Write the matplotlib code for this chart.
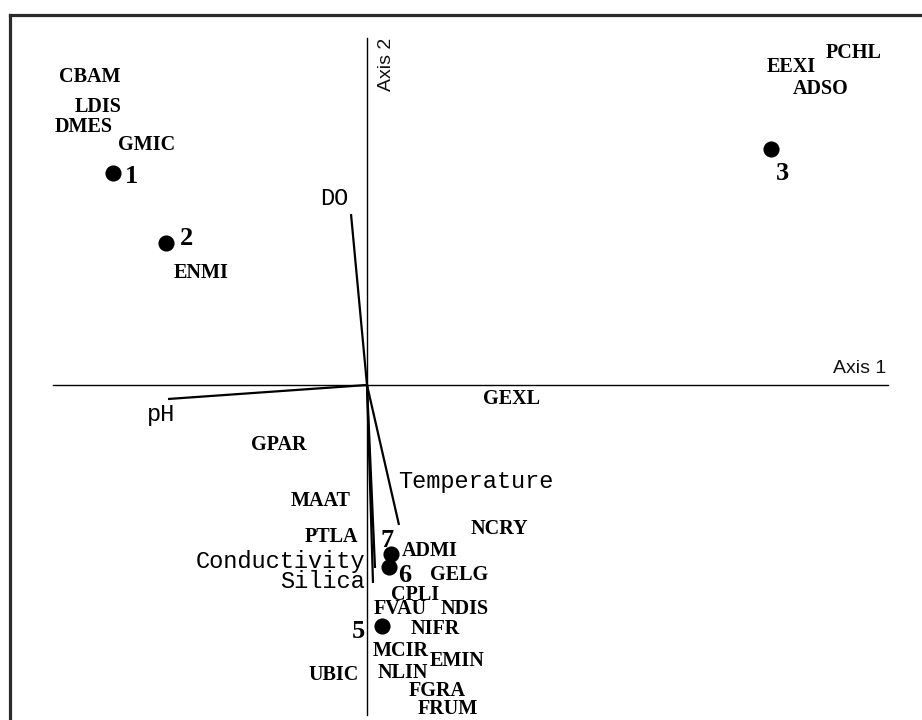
import matplotlib
matplotlib.use("Agg")
import matplotlib.pyplot as plt
from matplotlib.lines import Line2D

# ---------------- data (ordination scores) ----------------
site_labels = ["1", "2", "3", "5", "6", "7"]
site_x = [-2.54, -2.01, 4.04, 0.15, 0.22, 0.24]
site_y = [2.12, 1.42, 2.36, -2.41, -1.82, -1.69]

species_labels = ["CBAM", "LDIS", "DMES", "GMIC", "ENMI", "PCHL", "EEXI", "ADSO",
                  "GEXL", "GPAR", "MAAT", "PTLA", "NCRY", "ADMI", "GELG", "CPLI",
                  "FVAU", "NDIS", "NIFR", "MCIR", "EMIN", "NLIN", "UBIC", "FGRA", "FRUM"]
species_x = [-2.77, -2.69, -2.83, -2.20, -1.66, 4.87, 4.24, 4.54,
             1.44, -0.88, -0.46, -0.36, 1.32, 0.63, 0.92, 0.48,
             0.33, 0.98, 0.68, 0.34, 0.90, 0.36, -0.33, 0.70, 0.81]
species_y = [3.10, 2.80, 2.60, 2.42, 1.15, 3.35, 3.20, 2.99,
             -0.11, -0.57, -1.14, -1.50, -1.41, -1.64, -1.87, -2.07,
             -2.22, -2.21, -2.41, -2.63, -2.74, -2.86, -2.88, -3.04, -3.21]

env_labels = ["DO", "pH", "Temperature", "Conductivity", "Silica"]
env_x = [-0.16, -1.99, 0.32, 0.08, 0.06]
env_y = [1.71, -0.14, -1.40, -1.83, -1.98]

# ---------------- styling / label offsets (pixels, y down) ----------------
site_offsets = {"1": (19, 10), "2": (20, 2), "3": (11, 31),
                "5": (-24, 12), "6": (16, 15), "7": (-4, -7)}
env_label_style = {  # (dx, dy, ha)
    "DO": (-3, -9, "right"),
    "pH": (-7, 22, "center"),
    "Temperature": (-1, -37, "left"),
    "Conductivity": (-10, 0, "right"),
    "Silica": (-8, 5, "right"),
}

SERIF = ["Liberation Serif", "DejaVu Serif"]
MONO = ["Liberation Mono", "DejaVu Sans Mono"]
SANS = ["Liberation Sans", "DejaVu Sans"]

fig = plt.figure(figsize=(9.22, 7.20), dpi=100)
ax = fig.add_axes([0, 0, 1, 1])
ax.set_xlim(-3.67, 5.55)
ax.set_ylim(-3.35, 3.85)
ax.axis("off")

# axes of the ordination
ax.plot([-3.14, 5.21], [0, 0], color="black", lw=1.0)
ax.plot([0, 0], [-3.30, 3.47], color="black", lw=1.0)
ax.text(5.19, 0.12, "Axis 1", ha="right", va="baseline", fontsize=14,
        family=SANS, color="#111111")
ax.text(0.28, 3.47, "Axis 2", ha="right", va="top", rotation=90, fontsize=14,
        family=SANS, color="#111111")

# environmental vectors
for lab, ex, ey in zip(env_labels, env_x, env_y):
    ax.plot([0, ex], [0, ey], color="black", lw=1.6, solid_capstyle="butt")
    dx, dy, ha = env_label_style[lab]
    ax.annotate(lab, (ex, ey), xytext=(dx, -dy), textcoords="offset pixels",
                ha=ha, va="baseline", fontsize=17, family=MONO, color="black")

# species
for lab, sx, sy in zip(species_labels, species_x, species_y):
    ax.text(sx, sy, lab, ha="center", va="center_baseline", fontsize=14.5,
            family=SERIF, fontweight="bold", color="black")

# sites
ax.scatter(site_x, site_y, s=135, color="black", zorder=5, linewidths=0)
for lab, sx, sy in zip(site_labels, site_x, site_y):
    dx, dy = site_offsets[lab]
    ax.annotate(lab, (sx, sy), xytext=(dx, -dy), textcoords="offset pixels",
                ha="center", va="baseline", fontsize=19, family=SERIF,
                fontweight="bold", color="black")

# outer frame (only left and top edges visible)
fig.add_artist(Line2D([9.5 / 922, 9.5 / 922], [0, 1 - 14.5 / 720],
                      transform=fig.transFigure, color="#2b2b2b", lw=2.3))
fig.add_artist(Line2D([9.5 / 922, 1], [1 - 14.5 / 720, 1 - 14.5 / 720],
                      transform=fig.transFigure, color="#2b2b2b", lw=2.3))

fig.savefig("out.png", dpi=100, facecolor="white")
